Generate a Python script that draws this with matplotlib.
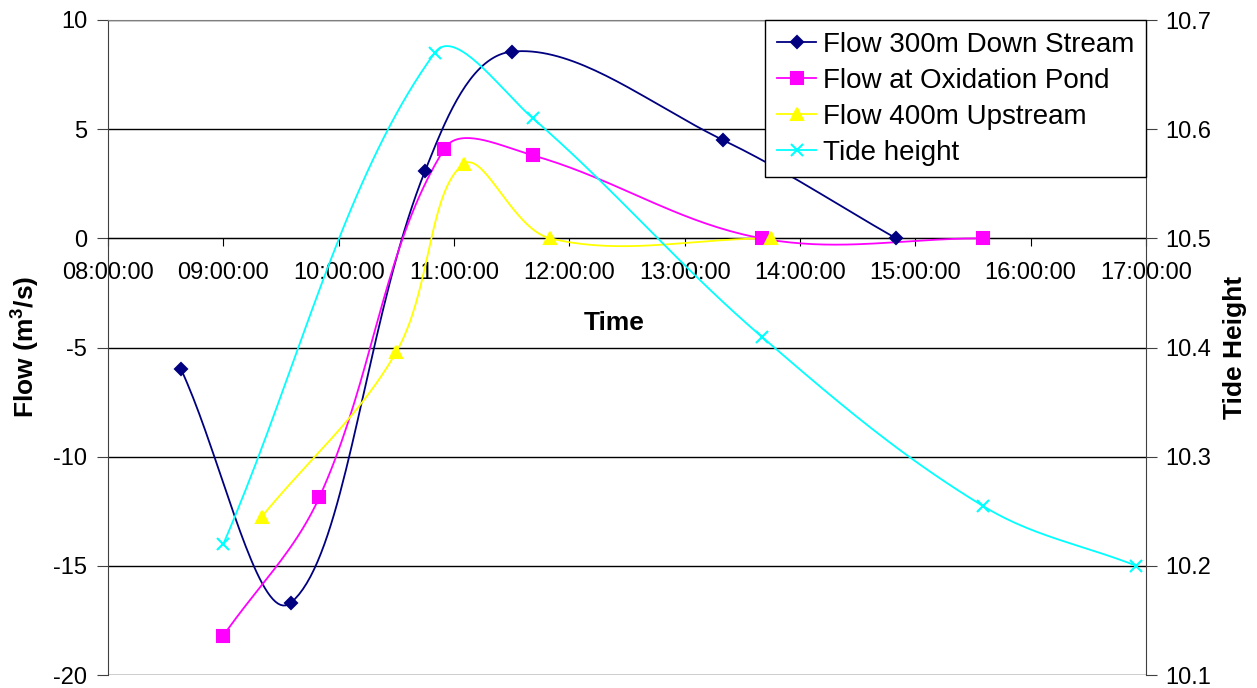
import numpy as np
import pandas as pd
import matplotlib
matplotlib.use("Agg")
import matplotlib.pyplot as plt
import matplotlib.dates as mdates

plt.rcParams['font.family'] = ['Liberation Sans', 'DejaVu Sans']
plt.rcParams['mathtext.fontset'] = 'custom'
plt.rcParams['mathtext.rm'] = 'Liberation Sans'
plt.rcParams['mathtext.bf'] = 'Liberation Sans:bold'
plt.rcParams['axes.unicode_minus'] = False

# data
down_times = ["08:38", "09:35", "10:45", "11:30", "13:20", "14:50"]
down_flow = [-6.0, -16.7, 3.1, 8.55, 4.5, 0.0]

pond_times = ["09:00", "09:50", "10:55", "11:41", "13:40", "15:35"]
pond_flow = [-18.2, -11.85, 4.1, 3.8, 0.0, 0.0]

up_times = ["09:20", "10:30", "11:05", "11:50", "13:45"]
up_flow = [-12.75, -5.2, 3.4, 0.0, 0.0]

tide_times = ["09:00", "10:50", "11:41", "13:40", "15:35", "16:55"]
tide_height = [10.22, 10.67, 10.61, 10.41, 10.255, 10.2]

hour_ticks = ["08:00", "09:00", "10:00", "11:00", "12:00", "13:00", "14:00", "15:00", "16:00", "17:00"]


def to_num(times):
    return mdates.date2num(pd.to_datetime(["2000-01-01 " + t for t in times]))


def smooth(ax, x, y, n=40, k=0.36):
    """Excel-like smoothed line: bezier in screen space, tangents scaled by segment length."""
    pts = ax.transData.transform(np.column_stack([x, y]))
    m = len(pts)
    cin = pts.copy()
    cout = pts.copy()
    for i in range(m):
        p0 = pts[i - 1] if i > 0 else pts[i]
        p2 = pts[i + 1] if i < m - 1 else pts[i]
        d01 = np.hypot(*(pts[i] - p0))
        d12 = np.hypot(*(p2 - pts[i]))
        tot = d01 + d12
        if tot == 0:
            continue
        cin[i] = pts[i] - k * d01 / tot * (p2 - p0)
        cout[i] = pts[i] + k * d12 / tot * (p2 - p0)
    out = []
    t = np.linspace(0, 1, n)[:, None]
    for i in range(m - 1):
        p1, c1, c2, p2 = pts[i], cout[i], cin[i + 1], pts[i + 1]
        seg = (1 - t) ** 3 * p1 + 3 * (1 - t) ** 2 * t * c1 + 3 * (1 - t) * t ** 2 * c2 + t ** 3 * p2
        out.append(seg if i == 0 else seg[1:])
    xy = ax.transData.inverted().transform(np.vstack(out))
    return xy[:, 0], xy[:, 1]


fig = plt.figure(figsize=(12.57, 6.88), dpi=100)
ax = fig.add_axes([108 / 1257, 1 - 675 / 688, (1146 - 108) / 1257, (675 - 20) / 688])
ax2 = ax.twinx()

xt = to_num(hour_ticks)
ax.set_xlim(xt[0], xt[-1])
ax.set_ylim(-20, 10)
ax2.set_ylim(10.1, 10.7)
ax.set_yticks(np.arange(-20, 11, 5))
ax2.set_yticks(np.round(np.arange(10.1, 10.71, 0.1), 1))
ax.set_xticks(xt)
ax.xaxis.set_major_formatter(mdates.DateFormatter('%H:%M:%S'))

series = [
    (ax, down_times, down_flow, '#000080', 'D', 6.5, "Flow 300m Down Stream"),
    (ax, pond_times, pond_flow, '#FF00FF', 's', 8, "Flow at Oxidation Pond"),
    (ax, up_times, up_flow, '#FFFF00', '^', 8, "Flow 400m Upstream"),
    (ax2, tide_times, tide_height, '#00FFFF', 'x', 8, "Tide height"),
]
handles = []
for a, times, vals, col, mk, ms, lab in series:
    x = to_num(times)
    sx, sy = smooth(a, x, vals)
    a.plot(sx, sy, color=col, lw=1.3, zorder=3)
    a.plot(x, vals, ls='none', marker=mk, ms=ms, color=col, mec=col, mew=1.5, zorder=4)
    h, = a.plot([], [], color=col, lw=1.3, marker=mk, ms=ms, mec=col, mew=1.5, label=lab)
    handles.append(h)

# grid and spines
ax.yaxis.grid(True, color='black', lw=1)
ax.set_axisbelow(True)
ax.spines['bottom'].set_position(('data', 0))
ax.spines['bottom'].set_color('black')
ax.spines['top'].set_color('#808080')
ax.spines['left'].set_color('#404040')
for s in ['top', 'left', 'bottom', 'right']:
    ax2.spines[s].set_visible(False)
ax2.spines['right'].set_visible(True)
ax2.spines['right'].set_color('#404040')
ax.spines['right'].set_visible(False)

ax.tick_params(axis='x', direction='out', length=6, pad=11, labelsize=17, color='black')
ax.tick_params(axis='y', direction='out', length=8, pad=7, labelsize=17, color='#404040')
ax2.tick_params(axis='y', direction='out', length=8, pad=6, labelsize=17, color='#404040')

fig.text(614 / 1257, 1 - 323 / 688, "Time", fontsize=19, fontweight='bold', ha='center', va='center')
fig.text(25 / 1257, 1 - 347 / 688, r"Flow (m$^\mathbf{3}$/s)", fontsize=19, fontweight='bold',
         rotation=90, ha='center', va='center')
fig.text(1235 / 1257, 1 - 347 / 688, "Tide Height", fontsize=19, fontweight='bold',
         rotation=90, ha='center', va='center')

leg = ax2.legend(handles=handles, loc='upper right', bbox_to_anchor=(1, 1), borderaxespad=0,
                 fontsize=20, frameon=True, fancybox=False, framealpha=1, edgecolor='black',
                 handlelength=1.4, handletextpad=0.25, labelspacing=0.36, borderpad=0.42)
leg.get_frame().set_linewidth(1)

fig.savefig("out.png", dpi=100)
